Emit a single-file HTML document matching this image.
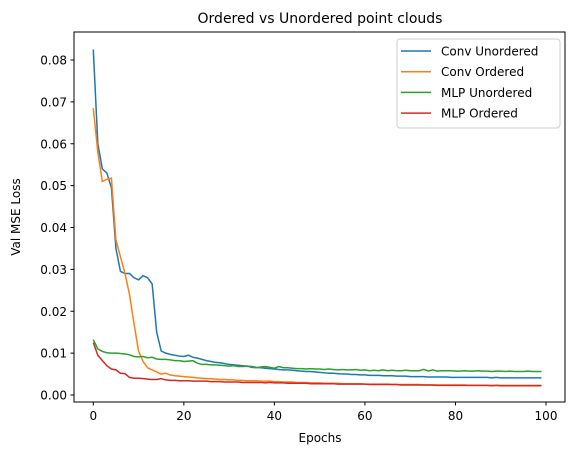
<!DOCTYPE html>
<html><head><meta charset="utf-8"><style>
body{margin:0;background:#fff;font-family:"Liberation Sans","DejaVu Sans",sans-serif}
svg text{font-family:"DejaVu Sans","Liberation Sans",sans-serif;fill:#000}
</style></head><body>
<svg id="chart" width="576" height="455">
<rect x="0" y="0" width="576" height="455" fill="#fff"/>
<text x="320" y="23" font-size="14" text-anchor="middle">Ordered vs Unordered point clouds</text>
<g id="series"></g>
<g id="axes"></g>
<rect x="74" y="32" width="491" height="370" fill="none" stroke="#000" stroke-width="1"/>
<text x="320" y="442" font-size="12" text-anchor="middle">Epochs</text>
<text x="20" y="217" font-size="12" text-anchor="middle" transform="rotate(-90 20 217)">Val MSE Loss</text>
<g>
<rect x="397" y="39" width="163" height="89" rx="3" fill="#fff" fill-opacity="0.8" stroke="#ccc"/>
<g id="legend-entries"></g>
</g>
</svg>
<script>
const epochs = Array.from({length:100},(_,i)=>i);
const seriesNames = ["Conv Unordered","Conv Ordered","MLP Unordered","MLP Ordered"];
const seriesColors = ["#1f77b4","#ff7f0e","#2ca02c","#d62728"];
const convUnordered = [.0825,.060,.054,.053,.0495,.035,.0295,.029,.029,.028,.0275,.0285,.028,.0265,.015,.0105,.010,.0097,.0095,.0093,
.0092,.0095,.009,.0088,.0085,.0082,.008,.0078,.0077,.0075,.0073,.0072,.0071,.007,.0069,.0068,.0066,.0065,.0064,.0063,
.0062,.0061,.006,.006,.0059,.0058,.0057,.0056,.0056,.0055,.0054,.0053,.0052,.0052,.0051,.005,.005,.0049,.0049,.0048,
.0048,.0047,.0047,.0047,.0046,.0046,.0046,.0045,.0045,.0045,.0044,.0044,.0044,.0044,.0043,.0043,.0043,.0043,.0043,.0042,
.0042,.0042,.0042,.0042,.0042,.0042,.0042,.0042,.0041,.0042,.0041,.0041,.0041,.0041,.0041,.0041,.0041,.0041,.0041,.0041];
const convOrdered = [.0685,.058,.051,.0515,.0518,.037,.033,.029,.024,.017,.0105,.008,.0065,.006,.0055,.005,.0052,.0048,.0046,.0045,
.0044,.0043,.0042,.0041,.004,.0039,.0039,.0038,.0037,.0037,.0036,.0036,.0035,.0035,.0034,.0034,.0034,.0033,.0033,.0033,
.0032,.0032,.0031,.0031,.0031,.003,.003,.003,.0029,.0029,.0029,.0028,.0028,.0028,.0028,.0027,.0027,.0027,.0027,.0027,
.0026,.0026,.0026,.0026,.0026,.0026,.0025,.0025,.0025,.0025,.0025,.0025,.0025,.0024,.0024,.0024,.0024,.0024,.0024,.0024,
.0024,.0024,.0024,.0023,.0023,.0023,.0023,.0023,.0023,.0023,.0023,.0023,.0023,.0023,.0023,.0023,.0023,.0023,.0023,.0023];
const mlpUnordered = [.0132,.011,.0104,.0101,.0100,.0100,.0099,.0098,.0096,.0092,.0091,.0092,.0089,.0090,.0086,.0085,.0085,.0084,.0082,.0082,
.0080,.0081,.0082,.0076,.0073,.0073,.0072,.0072,.0071,.0070,.0069,.0070,.0068,.0068,.0069,.0066,.0065,.0067,.0068,.0066,
.0064,.0068,.0065,.0065,.0064,.0063,.0063,.0062,.0063,.0062,.0062,.0061,.0062,.0061,.0060,.0061,.0060,.0060,.0061,.0059,
.0060,.0058,.0059,.0058,.0060,.0058,.0059,.0058,.0058,.0059,.0058,.0058,.0058,.0061,.0057,.0060,.0057,.0058,.0058,.0058,
.0057,.0057,.0058,.0057,.0057,.0058,.0057,.0057,.0056,.0057,.0057,.0056,.0057,.0056,.0056,.0056,.0057,.0056,.0056,.0056];
const mlpOrdered = [.0125,.0095,.0082,.0070,.0062,.0060,.0052,.0051,.0042,.0040,.0040,.0039,.0038,.0037,.0037,.0039,.0036,.0035,.0035,.0034,
.0034,.0034,.0033,.0033,.0033,.0033,.0032,.0032,.0032,.0031,.0031,.0031,.0031,.0030,.0030,.0030,.0030,.0030,.0029,.0030,
.0029,.0029,.0029,.0028,.0028,.0028,.0028,.0028,.0027,.0027,.0027,.0027,.0027,.0027,.0026,.0026,.0026,.0026,.0026,.0026,
.0026,.0025,.0025,.0025,.0025,.0025,.0025,.0025,.0024,.0024,.0024,.0024,.0024,.0024,.0024,.0024,.0023,.0023,.0023,.0023,
.0023,.0023,.0023,.0023,.0023,.0023,.0023,.0023,.0022,.0023,.0022,.0022,.0022,.0022,.0022,.0022,.0022,.0022,.0022,.0022];
const xTicks = [0,20,40,60,80,100];
const yTicks = [0,0.01,0.02,0.03,0.04,0.05,0.06,0.07,0.08];
const yTickLabels = ["0.00","0.01","0.02","0.03","0.04","0.05","0.06","0.07","0.08"];

const NS="http://www.w3.org/2000/svg";
function xS(v){return 93.3+(v/100)*452.7;}
function yS(v){return 395-(v/0.08)*335;}
const seriesData=[convUnordered,convOrdered,mlpUnordered,mlpOrdered];
const sg=document.getElementById('series');
seriesData.forEach((d,k)=>{
  const p=document.createElementNS(NS,'path');
  p.setAttribute('d',d.map((v,i)=>(i?'L':'M')+xS(epochs[i]).toFixed(2)+' '+yS(v).toFixed(2)).join(''));
  p.setAttribute('fill','none');p.setAttribute('stroke',seriesColors[k]);p.setAttribute('stroke-width','1.5');
  
  
  sg.appendChild(p);
});
const ag=document.getElementById('axes');
xTicks.forEach(t=>{
  const l=document.createElementNS(NS,'line');
  l.setAttribute('x1',xS(t));l.setAttribute('x2',xS(t));l.setAttribute('y1',402);l.setAttribute('y2',405.5);l.setAttribute('stroke','#000');
  
  
  ag.appendChild(l);
  const tx=document.createElementNS(NS,'text');
  tx.setAttribute('x',xS(t));tx.setAttribute('y',420);tx.setAttribute('font-size','12');tx.setAttribute('text-anchor','middle');
  tx.textContent=t;
  
  
  ag.appendChild(tx);
});
yTicks.forEach((t,i)=>{
  const l=document.createElementNS(NS,'line');
  l.setAttribute('x1',70.5);l.setAttribute('x2',74);l.setAttribute('y1',yS(t));l.setAttribute('y2',yS(t));l.setAttribute('stroke','#000');
  
  
  ag.appendChild(l);
  const tx=document.createElementNS(NS,'text');
  tx.setAttribute('x',67);tx.setAttribute('y',yS(t)+4.5);tx.setAttribute('font-size','12');tx.setAttribute('text-anchor','end');
  tx.textContent=yTickLabels[i];
  
  
  ag.appendChild(tx);
});
const lg=document.getElementById('legend-entries');
seriesNames.forEach((n,k)=>{
  const y=51+k*20.7;
  const l=document.createElementNS(NS,'line');
  l.setAttribute('x1',401);l.setAttribute('x2',431);l.setAttribute('y1',y);l.setAttribute('y2',y);
  l.setAttribute('stroke',seriesColors[k]);l.setAttribute('stroke-width','1.5');
  
  
  lg.appendChild(l);
  const tx=document.createElementNS(NS,'text');
  tx.setAttribute('x',441);tx.setAttribute('y',y+4.5);tx.setAttribute('font-size','12');
  tx.textContent=n;
  
  
  lg.appendChild(tx);
});
</script>
</body></html>
